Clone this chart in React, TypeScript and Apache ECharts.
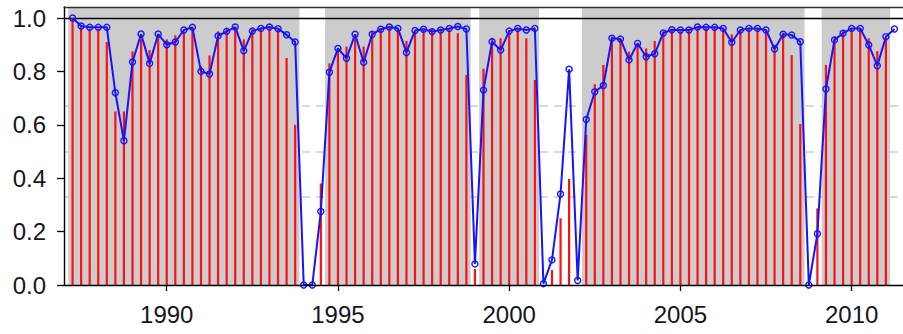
import React, { useEffect, useRef } from "react";
import * as echarts from "echarts";

// Quarterly observations, first quarter plotted at 1987.25, step 0.25 year
const firstQuarter = 1987.25;
const quarterStep = 0.25;

// Blue line (points with hollow circles)
const blueValues = [
  1.0, 0.97, 0.965, 0.965, 0.965, 0.72, 0.54, 0.835, 0.94, 0.83,
  0.94, 0.9, 0.91, 0.955, 0.965, 0.8, 0.79, 0.933, 0.95, 0.966,
  0.877, 0.951, 0.961, 0.966, 0.96, 0.937, 0.91, 0.0, 0.0, 0.275,
  0.797, 0.886, 0.849, 0.939, 0.834, 0.939, 0.958, 0.966, 0.961, 0.871,
  0.953, 0.958, 0.949, 0.955, 0.961, 0.968, 0.959, 0.079, 0.73, 0.911,
  0.88, 0.951, 0.961, 0.955, 0.961, 0.005, 0.094, 0.341, 0.808, 0.017,
  0.62, 0.724, 0.747, 0.924, 0.921, 0.843, 0.905, 0.855, 0.866, 0.944,
  0.956, 0.955, 0.955, 0.966, 0.965, 0.965, 0.961, 0.909, 0.955, 0.961,
  0.961, 0.955, 0.884, 0.939, 0.936, 0.911, 0.0, 0.192, 0.734, 0.918,
  0.943, 0.961, 0.961, 0.899, 0.821, 0.93, 0.959,
];

// Red vertical lines
const redValues = [
  1.0, 0.97, 0.96, 0.96, 0.91, 0.65, 0.65, 0.875, 0.92, 0.88,
  0.93, 0.92, 0.935, 0.95, 0.96, 0.82, 0.86, 0.95, 0.96, 0.965,
  0.92, 0.96, 0.962, 0.962, 0.955, 0.85, 0.6, 0.0, 0.0, 0.38,
  0.83, 0.875, 0.893, 0.924, 0.893, 0.951, 0.96, 0.965, 0.955, 0.914,
  0.95, 0.96, 0.96, 0.96, 0.96, 0.943, 0.787, 0.06, 0.81, 0.926,
  0.924, 0.955, 0.962, 0.924, 0.768, 0.0, 0.056, 0.25, 0.397, 0.0,
  0.562, 0.752, 0.824, 0.93, 0.92, 0.874, 0.899, 0.886, 0.914, 0.95,
  0.958, 0.958, 0.96, 0.965, 0.965, 0.965, 0.96, 0.939, 0.955, 0.96,
  0.96, 0.955, 0.9, 0.945, 0.861, 0.603, 0.0, 0.287, 0.824, 0.93,
  0.95, 0.962, 0.96, 0.924, 0.876, 0.925, null,
];

// Grey shaded regime periods
const regimeStart = [1987.125, 1994.625, 1999.125, 2002.125, 2009.125];
const regimeEnd = [1993.875, 1998.875, 2000.875, 2008.625, 2011.125];

// Reference lines
const dashedLevels = [1 / 3, 1 / 2, 2 / 3];
const solidLevel = 1.0;

// Axis ticks
const xTicks = [1990, 1995, 2000, 2005, 2010];
const yTicks = [0, 0.2, 0.4, 0.6, 0.8, 1.0];

export default function App() {
  const ref = useRef<HTMLDivElement>(null);

  useEffect(() => {
    if (!ref.current) return;
    const chart = echarts.init(ref.current, undefined, { renderer: "svg" });

    const times = blueValues.map((_, i) => firstQuarter + i * quarterStep);
    const blueData = blueValues.map((v, i) => [times[i], v]);
    const redData = redValues.map((v, i) => [times[i], v]);

    const labelFont = {
      fontSize: 24,
      fontFamily: "Liberation Sans, Arial, sans-serif",
      color: "#151520",
    };

    chart.setOption({
      animation: false,
      grid: { left: 64, top: 7, bottom: 49, right: -5.5 },
      xAxis: [
        {
          type: "value",
          min: 1987,
          max: 2011.5,
          z: 50,
          axisLine: { show: true, lineStyle: { color: "#000", width: 1.4 } },
          axisTick: {
            show: true,
            length: 6,
            customValues: xTicks,
            lineStyle: { color: "#000", width: 1.3 },
          },
          axisLabel: {
            ...labelFont,
            margin: 17,
            customValues: xTicks,
            formatter: (v: number) => String(Math.round(v)),
          },
          splitLine: { show: false },
        },
        {
          type: "value",
          position: "top",
          min: 1987,
          max: 2011.5,
          z: 50,
          axisLine: { show: true, onZero: false, lineStyle: { color: "#333", width: 1.4 } },
          axisTick: { show: false },
          axisLabel: { show: false },
          splitLine: { show: false },
        },
      ],
      yAxis: {
        type: "value",
        min: 0,
        max: 1.0412,
        z: 50,
        axisLine: { show: true, lineStyle: { color: "#000", width: 1.4 } },
        axisTick: {
          show: true,
          length: 7,
          customValues: yTicks,
          lineStyle: { color: "#000", width: 1.3 },
        },
        axisLabel: {
          ...labelFont,
          margin: 18,
          customValues: yTicks,
          formatter: (v: number) => v.toFixed(1),
        },
        splitLine: { show: false },
      },
      series: [
        {
          name: "dashed",
          type: "line",
          data: [],
          z: 1,
          markLine: {
            z: 1,
            silent: true,
            symbol: "none",
            label: { show: false },
            lineStyle: { color: "#cdcdcd", type: [8, 6], width: 1.5, opacity: 1 },
            data: dashedLevels.map((y) => ({ yAxis: y })),
          },
        },
        {
          name: "regimes",
          type: "line",
          data: [],
          z: 2,
          markArea: {
            z: 2,
            silent: true,
            itemStyle: { color: "#cccccc", opacity: 1 },
            data: regimeStart.map((s, i) => [{ xAxis: s }, { xAxis: regimeEnd[i] }]),
          },
        },
        {
          name: "one",
          type: "line",
          data: [],
          z: 3,
          markLine: {
            z: 3,
            silent: true,
            symbol: "none",
            label: { show: false },
            lineStyle: { color: "#000", type: "solid", width: 1.3, opacity: 1 },
            data: [{ yAxis: solidLevel }],
          },
        },
        {
          name: "red",
          type: "bar",
          data: redData,
          barWidth: 2.2,
          z: 4,
          itemStyle: { color: "#ff0f0f" },
        },
        {
          name: "blue",
          type: "line",
          data: blueData,
          z: 5,
          symbol: "circle",
          symbolSize: 6,
          showAllSymbol: true,
          lineStyle: { color: "#1414ff", width: 2 },
          itemStyle: { color: "rgba(0,0,0,0)", borderColor: "#1414ff", borderWidth: 1.4 },
        },
      ],
    });

    return () => chart.dispose();
  }, []);

  return (
    <div
      ref={ref}
      style={{ position: "absolute", left: 0, top: 0, width: 903, height: 334 }}
    />
  );
}
